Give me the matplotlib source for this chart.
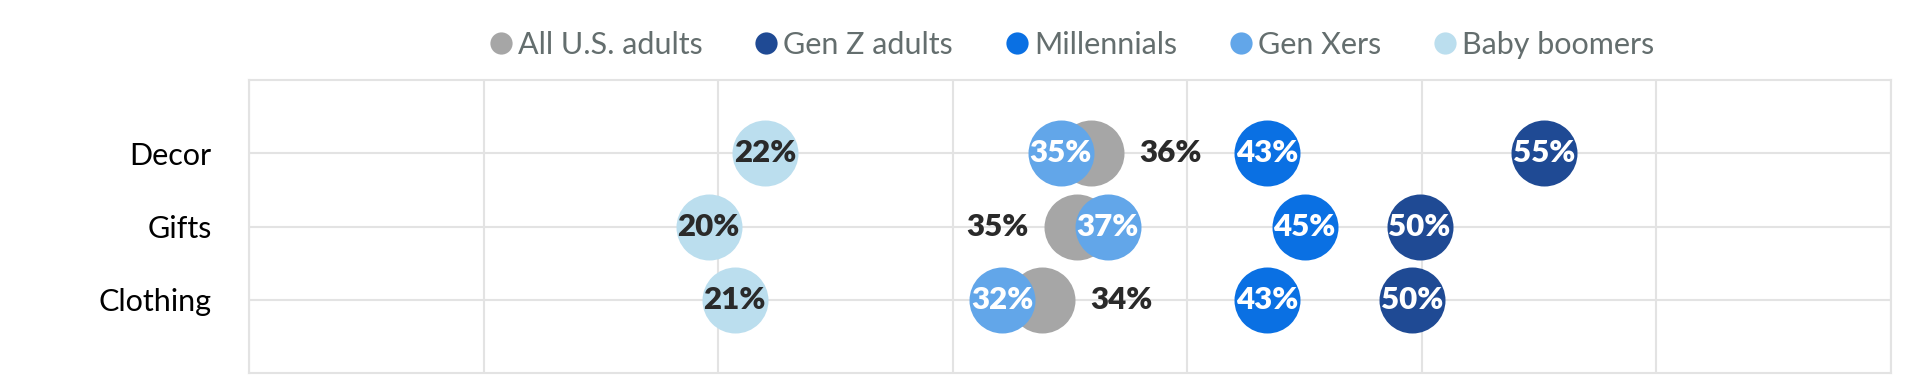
import matplotlib
matplotlib.use("Agg")
import matplotlib.pyplot as plt
from matplotlib.lines import Line2D

plt.rcParams['font.family'] = ['Lato', 'DejaVu Sans']

# categories, top to bottom
categories = ["Decor", "Gifts", "Clothing"]

# series values (percent)
all_adults = [35.9, 35.3, 33.8]
gen_z = [55.2, 49.9, 49.6]
millennials = [43.4, 45.0, 43.4]
gen_x = [34.6, 36.6, 32.1]
boomers = [22.0, 19.6, 20.7]

series_names = ["All U.S. adults", "Gen Z adults", "Millennials", "Gen Xers", "Baby boomers"]
series_colors = ["#a6a6a6", "#1f4a94", "#0a70e3", "#62a6e9", "#bbdeee"]
label_colors = ["#2a2a2a", "white", "white", "white", "#2a2a2a"]

x_ticks = [0, 10, 20, 30, 40, 50, 60, 70]

fig = plt.figure(figsize=(19.2, 3.84), dpi=100)
ax = fig.add_axes([249 / 1920, 1 - 373 / 384, (1891 - 249) / 1920, (373 - 80) / 384])

ypos = list(range(1, len(categories) + 1))
dot_size = (66 * 0.72) ** 2
label_font = dict(fontsize=22.5, fontweight='heavy')

all_series = [all_adults, gen_z, millennials, gen_x, boomers]
for k, vals in enumerate(all_series):
    ax.scatter(vals, ypos, s=dot_size, color=series_colors[k], linewidths=0, zorder=3 + k)
    for i, v in enumerate(vals):
        txt = f"{round(v)}%"
        if k == 0:
            # label sits beside the grey dot, away from the Gen X dot
            side = -1 if gen_x[i] > v else 1
            ax.annotate(txt, (v, ypos[i]), xytext=(side * 57, 0), textcoords='offset points',
                        ha='center', va='center', color=label_colors[k], zorder=20, **label_font)
        else:
            ax.text(v, ypos[i], txt, ha='center', va='center',
                    color=label_colors[k], zorder=20, **label_font)

ax.set_xlim(0, 70)
ax.set_ylim(4, 0)
ax.set_xticks(x_ticks)
ax.set_xticklabels([])
ax.set_yticks(ypos)
ax.set_yticklabels(categories, fontsize=22, color='black')
ax.tick_params(axis='both', length=0)
ax.tick_params(axis='y', pad=27)
ax.grid(True, color='#e3e3e3', linewidth=1.5, zorder=0)
ax.set_axisbelow(True)
for sp in ax.spines.values():
    sp.set_color('#e3e3e3')
    sp.set_linewidth(1.5)

handles = [Line2D([], [], marker='o', linestyle='', markersize=16, markerfacecolor=c,
                  markeredgewidth=0) for c in series_colors]
fig.legend(handles, series_names, loc='center', bbox_to_anchor=(1070 / 1920, 1 - 45 / 384),
           ncol=5, frameon=False, fontsize=22, labelcolor='#646e6e',
           handletextpad=0.05, columnspacing=1.6, handlelength=1.0)

fig.savefig("out.png", dpi=100, facecolor='white')
